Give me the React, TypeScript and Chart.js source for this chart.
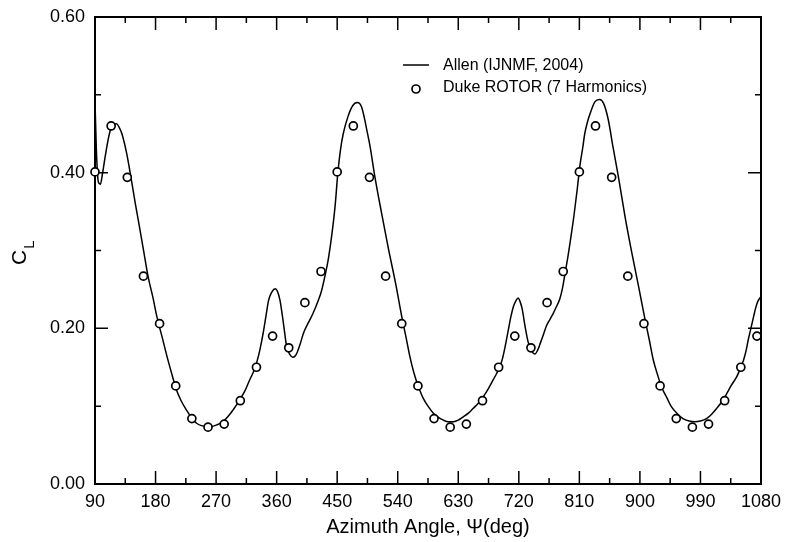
import React, { useEffect, useRef } from "react";
import { Chart, registerables } from "chart.js";

Chart.register(...registerables);

const FONT = '"Liberation Sans", Arial, Helvetica, sans-serif';

// Allen (IJNMF, 2004) — continuous curve
const allenAngle = [
  90, 92, 95, 98, 101, 105, 109, 113, 118, 122, 126, 130, 137, 144, 150, 157, 163, 169, 176, 182,
  190, 197, 204, 211, 218, 226, 233, 241, 248, 256, 263, 271, 280, 288, 296, 305, 313, 320, 325, 330,
  335, 340, 344, 348, 353, 358, 361, 365, 370, 375, 380, 384, 387, 390, 395, 400, 407, 414, 422, 427,
  432, 437, 442, 447, 451, 455, 459, 466, 473, 480, 486, 490, 494, 499, 506, 516, 526, 537, 546, 552,
  558, 564, 570, 578, 585, 593, 600, 608, 615, 623, 630, 637, 645, 652, 660, 667, 675, 682, 687, 692,
  696, 700, 704, 708, 712, 716, 719, 722, 725, 729, 734, 739, 744, 748, 752, 757, 761, 766, 771, 776,
  781, 785, 789, 793, 797, 802, 807, 811, 815, 818, 822, 826, 833, 840, 846, 853, 860, 868, 878, 888,
  898, 907, 914, 920, 926, 932, 940, 947, 956, 964, 973, 982, 990, 999, 1007, 1014, 1022, 1029, 1036, 1044,
  1050, 1054, 1058, 1061, 1065, 1069, 1072, 1075, 1080,
];
const allenCL = [
  0.492, 0.43, 0.388, 0.385, 0.398, 0.42, 0.44, 0.455, 0.462, 0.463, 0.458, 0.45, 0.425, 0.391, 0.36, 0.326, 0.296, 0.266, 0.24, 0.215,
  0.188, 0.164, 0.142, 0.121, 0.107, 0.095, 0.086, 0.078, 0.075, 0.074, 0.074, 0.076, 0.08, 0.087, 0.096, 0.108, 0.12, 0.134, 0.143, 0.155,
  0.172, 0.194, 0.215, 0.236, 0.247, 0.251, 0.248, 0.236, 0.207, 0.176, 0.166, 0.163, 0.164, 0.168, 0.18, 0.194, 0.207, 0.219, 0.236, 0.249,
  0.268, 0.29, 0.32, 0.358, 0.4, 0.43, 0.45, 0.472, 0.486, 0.49, 0.485, 0.472, 0.455, 0.433, 0.395, 0.348, 0.303, 0.257, 0.215, 0.19,
  0.164, 0.143, 0.127, 0.11, 0.1, 0.091, 0.086, 0.082, 0.08, 0.08, 0.082, 0.086, 0.091, 0.097, 0.104, 0.112, 0.123, 0.134, 0.142, 0.151,
  0.162, 0.178, 0.196, 0.214, 0.228, 0.236, 0.239, 0.234, 0.225, 0.204, 0.182, 0.171, 0.167, 0.172, 0.181, 0.193, 0.203, 0.211, 0.219, 0.228,
  0.238, 0.252, 0.272, 0.292, 0.315, 0.345, 0.38, 0.41, 0.432, 0.45, 0.465, 0.476, 0.491, 0.494, 0.489, 0.468, 0.433, 0.395, 0.343, 0.297,
  0.254, 0.214, 0.185, 0.159, 0.141, 0.125, 0.111, 0.099, 0.09, 0.084, 0.081, 0.08, 0.081, 0.084, 0.09, 0.097, 0.106, 0.116, 0.127, 0.138,
  0.15, 0.159, 0.172, 0.185, 0.2, 0.215, 0.226, 0.234, 0.241,
];

// Duke ROTOR (7 Harmonics) — open circles
const dukeAngle = [
  90, 114, 138, 162, 186, 210, 234, 258, 282, 306, 330, 354, 378, 402,
  426, 450, 474, 498, 522, 546, 570, 594, 618, 642, 666, 690, 714, 738,
  762, 786, 810, 834, 858, 882, 906, 930, 954, 978, 1002, 1026, 1050, 1074,
];
const dukeCL = [
  0.401, 0.46, 0.394, 0.267, 0.206, 0.126, 0.084, 0.073, 0.077, 0.107, 0.15, 0.19, 0.175, 0.233,
  0.273, 0.401, 0.46, 0.394, 0.267, 0.206, 0.126, 0.084, 0.073, 0.077, 0.107, 0.15, 0.19, 0.175,
  0.233, 0.273, 0.401, 0.46, 0.394, 0.267, 0.206, 0.126, 0.084, 0.073, 0.077, 0.107, 0.15, 0.19,
];

const xMajorTicks = [90, 180, 270, 360, 450, 540, 630, 720, 810, 900, 990, 1080];
const xTickLabels = ["90", "180", "270", "360", "450", "540", "630", "720", "810", "900", "990", "1080"];
const xMinorTicks = [135, 225, 315, 405, 495, 585, 675, 765, 855, 945, 1035];
const yMajorTicks = [0, 0.2, 0.4, 0.6];
const yMinorTicks = [0.1, 0.3, 0.5];
const yTickLabels = ["0.00", "0.20", "0.40", "0.60"];

const seriesLabels = ["Allen (IJNMF, 2004)", "Duke ROTOR (7 Harmonics)"];
const xTitle = "Azimuth Angle, \u03A8(deg)";
const yTitleMain = "C";
const yTitleSub = "L";

const frameTicksPlugin = {
  id: "frameTicks",
  beforeDatasetsDraw(chart: any) {
    const { ctx, chartArea: a, scales } = chart;
    const xs = scales.x;
    const ys = scales.y;
    const major = 13;
    const minor = 6;
    ctx.save();
    ctx.strokeStyle = "#000";
    ctx.lineWidth = 1.5;
    ctx.beginPath();
    const xTick = (v: number, len: number) => {
      const px = xs.getPixelForValue(v);
      ctx.moveTo(px, a.bottom);
      ctx.lineTo(px, a.bottom - len);
      ctx.moveTo(px, a.top);
      ctx.lineTo(px, a.top + len);
    };
    const yTick = (v: number, len: number) => {
      const py = ys.getPixelForValue(v);
      ctx.moveTo(a.left, py);
      ctx.lineTo(a.left + len, py);
      ctx.moveTo(a.right, py);
      ctx.lineTo(a.right - len, py);
    };
    xMajorTicks.forEach((v) => xTick(v, major));
    xMinorTicks.forEach((v) => xTick(v, minor));
    yMajorTicks.forEach((v) => yTick(v, major));
    yMinorTicks.forEach((v) => yTick(v, minor));
    ctx.stroke();
    ctx.lineWidth = 2;
    ctx.strokeRect(a.left, a.top, a.right - a.left, a.bottom - a.top);
    ctx.restore();
  },
  afterDraw(chart: any) {
    const { ctx, chartArea: a } = chart;
    ctx.save();
    ctx.fillStyle = "#000";
    ctx.strokeStyle = "#000";
    // Y axis title: C with subscript L, rotated
    ctx.translate(a.left - 77, a.top + 240);
    ctx.rotate(-Math.PI / 2);
    ctx.textAlign = "left";
    ctx.textBaseline = "alphabetic";
    ctx.font = `21px ${FONT}`;
    const wC = ctx.measureText(yTitleMain).width;
    ctx.fillText(yTitleMain, -8, 8);
    ctx.font = `15px ${FONT}`;
    ctx.fillText(yTitleSub, -8 + wC + 1, 16);
    ctx.restore();

    // Legend
    ctx.save();
    ctx.fillStyle = "#000";
    ctx.strokeStyle = "#000";
    ctx.font = `16px ${FONT}`;
    ctx.textAlign = "left";
    ctx.textBaseline = "middle";
    const lx = a.left + 308;
    const ly1 = a.top + 48;
    const ly2 = a.top + 72;
    ctx.lineWidth = 1.5;
    ctx.beginPath();
    ctx.moveTo(lx, ly1);
    ctx.lineTo(lx + 26, ly1);
    ctx.stroke();
    ctx.fillText(seriesLabels[0], lx + 40, ly1 + 1);
    ctx.lineWidth = 1.7;
    ctx.beginPath();
    ctx.arc(lx + 13, ly2, 4, 0, Math.PI * 2);
    ctx.fillStyle = "#fff";
    ctx.fill();
    ctx.stroke();
    ctx.fillStyle = "#000";
    ctx.fillText(seriesLabels[1], lx + 40, ly2 - 1);
    ctx.restore();
  },
};

export default function App() {
  const canvasRef = useRef<HTMLCanvasElement | null>(null);

  useEffect(() => {
    const canvas = canvasRef.current;
    if (!canvas) return;
    Chart.defaults.font.family = FONT;
    Chart.defaults.color = "#000";

    const chart = new Chart(canvas, {
      type: "scatter",
      data: {
        datasets: [
          {
            type: "scatter",
            label: seriesLabels[1],
            data: dukeAngle.map((x, i) => ({ x, y: dukeCL[i] })),
            pointRadius: 4,
            pointHoverRadius: 4,
            pointBorderWidth: 1.7,
            pointBackgroundColor: "#fff",
            pointBorderColor: "#000",
            showLine: false,
            clip: false,
          },
          {
            type: "line",
            label: seriesLabels[0],
            data: allenAngle.map((x, i) => ({ x, y: allenCL[i] })),
            borderColor: "#000",
            borderWidth: 1.5,
            pointRadius: 0,
            fill: false,
            cubicInterpolationMode: "monotone",
          },
        ] as any,
      },
      options: {
        animation: false,
        responsive: false,
        devicePixelRatio: 1,
        events: [],
        layout: { padding: { left: 0, top: 17, right: 24, bottom: 0 } },
        plugins: {
          legend: { display: false },
          tooltip: { enabled: false },
        },
        scales: {
          x: {
            type: "linear",
            min: 90,
            max: 1080,
            afterBuildTicks: (scale: any) => {
              scale.ticks = xMajorTicks.map((v) => ({ value: v }));
            },
            afterFit: (scale: any) => {
              scale.height = 58;
              scale.paddingLeft = 0;
              scale.paddingRight = 0;
            },
            grid: { display: false, drawTicks: false },
            border: { display: false },
            ticks: {
              font: { size: 18 },
              color: "#000",
              padding: 7,
              maxRotation: 0,
              autoSkip: false,
              callback: (_v: any, i: number) => xTickLabels[i],
            },
            title: {
              display: true,
              text: xTitle,
              font: { size: 20 },
              color: "#000",
              padding: { top: 0, bottom: 3 },
            },
          },
          y: {
            type: "linear",
            min: 0,
            max: 0.6,
            afterBuildTicks: (scale: any) => {
              scale.ticks = yMajorTicks.map((v) => ({ value: v }));
            },
            afterFit: (scale: any) => {
              scale.width = 95;
              scale.paddingTop = 0;
              scale.paddingBottom = 0;
            },
            grid: { display: false, drawTicks: false },
            border: { display: false },
            ticks: {
              font: { size: 18 },
              color: "#000",
              padding: 10,
              autoSkip: false,
              callback: (_v: any, i: number) => yTickLabels[i],
            },
          },
        },
      } as any,
      plugins: [frameTicksPlugin],
    });

    return () => chart.destroy();
  }, []);

  return (
    <div style={{ position: "absolute", left: 0, top: 0, width: 785, height: 542, background: "#fff" }}>
      <canvas ref={canvasRef} width={785} height={542} />
    </div>
  );
}
